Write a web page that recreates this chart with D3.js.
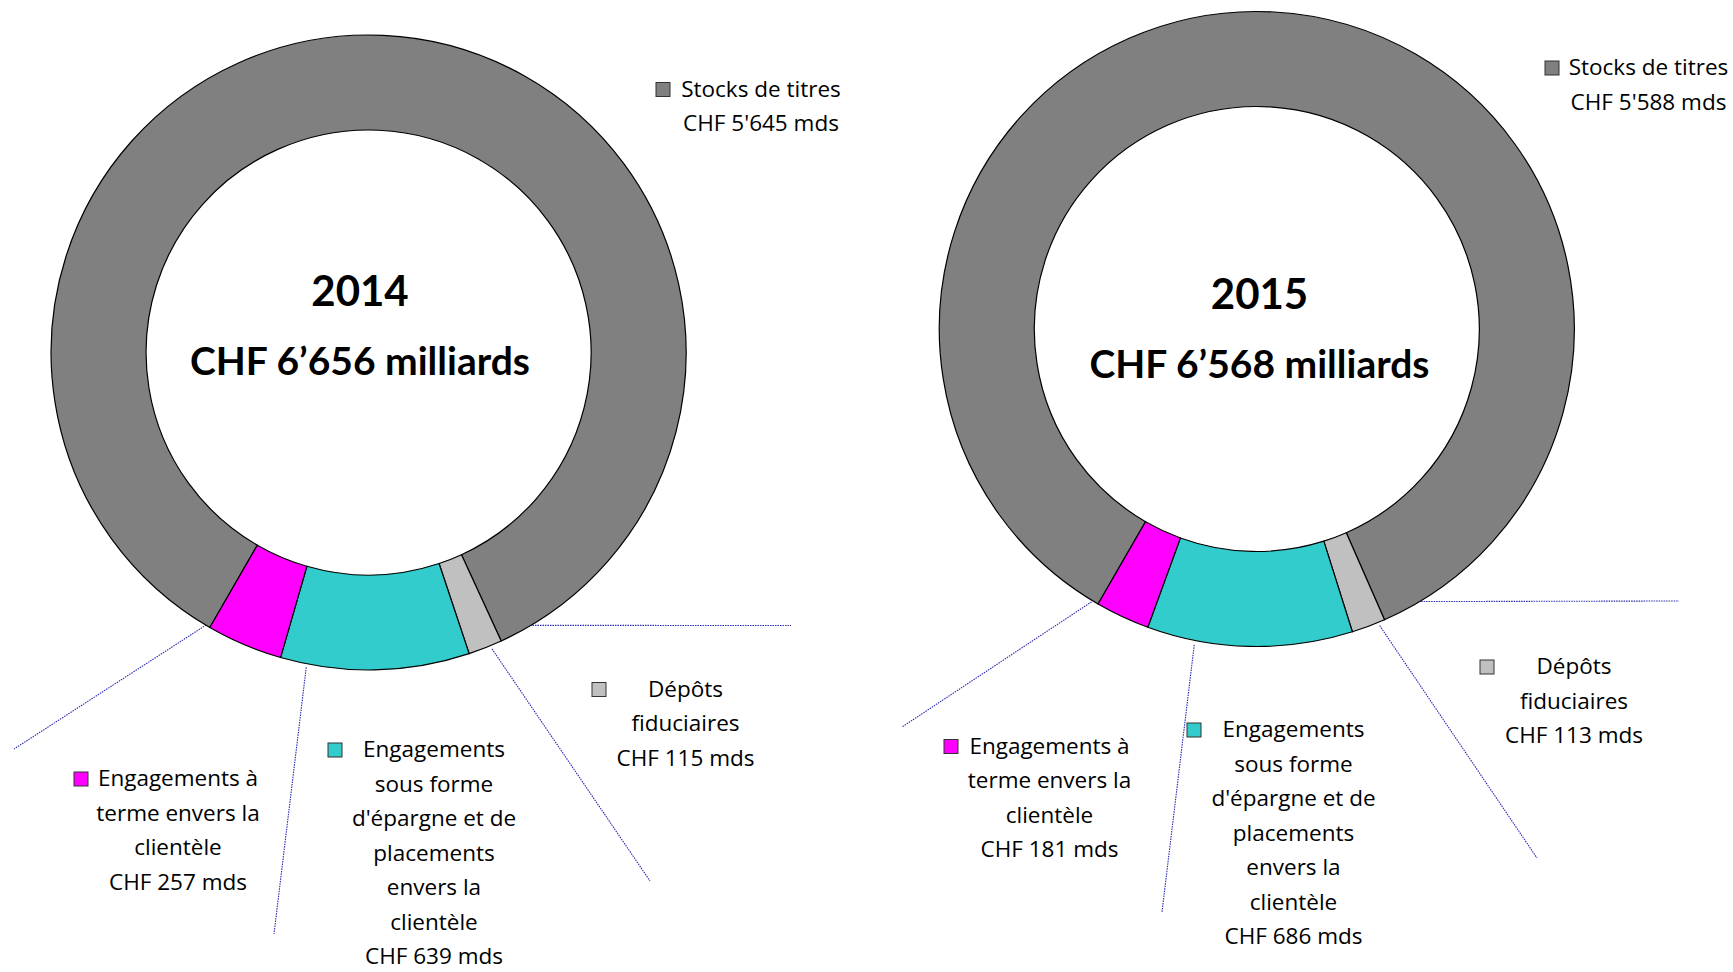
<!DOCTYPE html>
<html>
<head>
<meta charset="utf-8">
<script src="https://cdn.jsdelivr.net/npm/d3@7"></script>
<style>
  body { margin: 0; background: #fff; }
  text { fill: #000; }
</style>
</head>
<body>
<div id="container"></div>
<script>
// data
const categories = [
  "Stocks de titres",
  "Dépôts fiduciaires",
  "Engagements sous forme d'épargne et de placements envers la clientèle",
  "Engagements à terme envers la clientèle"
];
const categoryLines = [
  ["Stocks de titres"],
  ["Dépôts", "fiduciaires"],
  ["Engagements", "sous forme", "d'épargne et de", "placements", "envers la", "clientèle"],
  ["Engagements à", "terme envers la", "clientèle"]
];
const years = ["2014", "2015"];
const values2014 = [5645, 115, 639, 257];
const values2015 = [5588, 113, 686, 181];
const colors = ["#808080", "#c0c0c0", "#33cccc", "#ff00ff"];

// layout (pixels)
const layout = [
  {
    cx: 368.6, cy: 352.5, r: 317.5, r0: 222.5,
    titleX: 360, yearY: 306, totalY: 375,
    labels: [
      {x: 761, y: 96.5, keyX: 656, lead: [149.4, 317, 791, 625.5]},
      {x: 685.5, y: 696.5, keyX: 592, lead: [157.4, 321, 650, 881]},
      {x: 434, y: 757, keyX: 328, lead: [191.2, 321, 274, 934]},
      {x: 178, y: 786, keyX: 74, lead: [210.6, 315, 14, 749]}
    ]
  },
  {
    cx: 1256.8, cy: 329, r: 317.5, r0: 222.5,
    titleX: 1259.5, yearY: 309, totalY: 378,
    labels: [
      {x: 1648.5, y: 75, keyX: 1545, lead: [149.3, 317, 1679, 601]},
      {x: 1574, y: 674, keyX: 1480, lead: [157.5, 321, 1537, 858]},
      {x: 1293.5, y: 737, keyX: 1187, lead: [191.2, 322, 1162, 912]},
      {x: 1049.5, y: 753.5, keyX: 944, lead: [211.2, 319, 902, 727]}
    ]
  }
];

const lineH = 34.5;
const fmt = d3.formatLocale({decimal: ".", thousands: "'", grouping: [3], currency: ["", ""]}).format(",");
const fmtTotal = d3.formatLocale({decimal: ".", thousands: "’", grouping: [3], currency: ["", ""]}).format(",");

const svg = d3.select("#container")
  .append("svg")
  .attr("width", 1733)
  .attr("height", 972);

const pie = d3.pie()
  .sort(null)
  .startAngle(210 * Math.PI / 180)
  .endAngle(570 * Math.PI / 180);

[values2014, values2015].forEach((values, ci) => {
  const L = layout[ci];
  const g = svg.append("g");

  const arc = d3.arc().innerRadius(L.r0).outerRadius(L.r);

  // leader lines
  L.labels.forEach(lb => {
    const [ang, rad, x2, y2] = lb.lead;
    const a = ang * Math.PI / 180;
    g.append("line")
      .attr("x1", L.cx + rad * Math.sin(a))
      .attr("y1", L.cy - rad * Math.cos(a))
      .attr("x2", x2)
      .attr("y2", y2)
      .attr("stroke", "#2a2ab0")
      .attr("stroke-width", 1.1)
      .attr("stroke-dasharray", "1.5,1");
  });

  // ring
  g.append("g")
    .attr("transform", `translate(${L.cx},${L.cy})`)
    .selectAll("path")
    .data(pie(values))
    .enter()
    .append("path")
    .attr("d", arc)
    .attr("fill", (d, i) => colors[i])
    .attr("stroke", "#000")
    .attr("stroke-width", 1.2);

  // centre titles
  g.append("text")
    .attr("x", L.titleX)
    .attr("y", L.yearY)
    .attr("text-anchor", "middle")
    .style("font-family", "Lato, sans-serif")
    .style("font-weight", "bold")
    .style("font-size", "42px")
    .text(years[ci]);

  g.append("text")
    .attr("x", L.titleX)
    .attr("y", L.totalY)
    .attr("text-anchor", "middle")
    .style("font-family", "Lato, sans-serif")
    .style("font-weight", "bold")
    .style("font-size", "39px")
    .text("CHF " + fmtTotal(d3.sum(values)) + " milliards");

  // data labels
  categories.forEach((cat, i) => {
    const lb = L.labels[i];
    const lines = categoryLines[i].concat(["CHF " + fmt(values[i]) + " mds"]);
    lines.forEach((t, k) => {
      g.append("text")
        .attr("x", lb.x)
        .attr("y", lb.y + k * lineH)
        .attr("text-anchor", "middle")
        .style("font-family", "'Open Sans', sans-serif")
        .style("font-size", "22.5px")
        .text(t);
    });
    g.append("rect")
      .attr("x", lb.keyX)
      .attr("y", lb.y - 14)
      .attr("width", 14)
      .attr("height", 14)
      .attr("fill", colors[i])
      .attr("stroke", "#333")
      .attr("stroke-width", 1);
  });
});
</script>
</body>
</html>
